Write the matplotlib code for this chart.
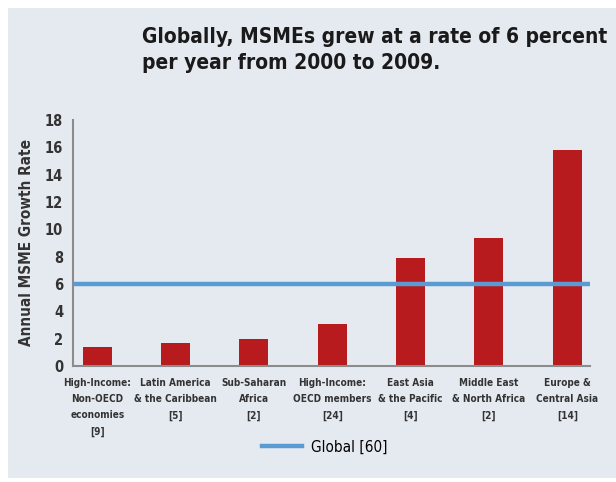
import matplotlib.pyplot as plt
from matplotlib.patches import Rectangle

# donnees
regions = ["High-Income:\nNon-OECD\neconomies\n[9]",
           "Latin America\n& the Caribbean\n[5]",
           "Sub-Saharan\nAfrica\n[2]",
           "High-Income:\nOECD members\n[24]",
           "East Asia\n& the Pacific\n[4]",
           "Middle East\n& North Africa\n[2]",
           "Europe &\nCentral Asia\n[14]"]
growth = [1.4, 1.7, 2.0, 3.1, 7.9, 9.4, 15.8]
global_rate = 6
yticks = [0, 2, 4, 6, 8, 10, 12, 14, 16, 18]

plt.rcParams["font.family"] = ["DejaVu Sans"]
plt.rcParams["font.stretch"] = "condensed"

fig = plt.figure(figsize=(6.16, 4.82), dpi=100, facecolor="white")
# fond bleute du panneau
fig.patches.append(Rectangle((8/616, 4/482), 1 - 8/616, 1 - 12/482,
                             transform=fig.transFigure, facecolor="#e5eaf1",
                             edgecolor="none", zorder=-5))

ax = fig.add_axes([73/616, 1 - 366/482, (590 - 73)/616, (366 - 120)/482])
ax.set_facecolor("none")

x = list(range(len(regions)))
ax.bar(x, growth, width=0.37, color="#b81b1d", zorder=2)
ax.axhline(global_rate, color="#5a9bd3", lw=3.2, zorder=3, label="Global [60]")

ax.set_xlim(-0.31, 6.29)
ax.set_ylim(0, 18)
ax.set_yticks(yticks)
ax.set_yticklabels([str(v) for v in yticks], fontsize=10.5, fontweight="bold", color="#333333")
ax.set_xticks(x)
ax.set_xticklabels(regions, fontsize=7.2, fontweight="bold", color="#333333", linespacing=1.75)
ax.tick_params(axis="both", length=0)
ax.tick_params(axis="x", pad=9)
ax.tick_params(axis="y", pad=7)

for s in ["top", "right"]:
    ax.spines[s].set_visible(False)
for s in ["left", "bottom"]:
    ax.spines[s].set_color("#8c8c8c")
    ax.spines[s].set_linewidth(1.5)

ax.set_ylabel("Annual MSME Growth Rate", fontsize=11, fontweight="bold",
              color="#333333", labelpad=8)

fig.text(142/616, 1 - 50/482, "Globally, MSMEs grew at a rate of 6 percent\nper year from 2000 to 2009.",
         fontsize=15, fontweight="bold", color="#1a1a1a", va="center", ha="left",
         linespacing=1.35)

fig.legend(loc="center", bbox_to_anchor=(325/616, 1 - 447/482), frameon=False,
           fontsize=11, handlelength=2.6, handletextpad=0.6)

fig.savefig("out.png", dpi=100, facecolor="white")
